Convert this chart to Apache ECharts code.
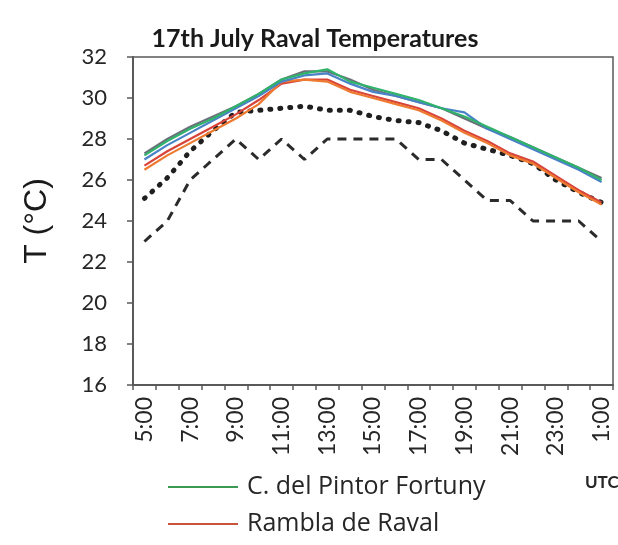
<!DOCTYPE html>
<html>
<head>
<meta charset="utf-8">
<script src="https://cdn.jsdelivr.net/npm/echarts@6/dist/echarts.min.js"></script>
<style>
  html, body { margin: 0; padding: 0; background: #fff; }
  #chart { width: 618px; height: 545px; }
</style>
</head>
<body>
<div id="chart"></div>
<script>
// Hourly readings, 5:00 UTC on 17 July through 1:00 UTC the next day
const hours = ['5:00','6:00','7:00','8:00','9:00','10:00','11:00','12:00','13:00','14:00','15:00',
               '16:00','17:00','18:00','19:00','20:00','21:00','22:00','23:00','0:00','1:00'];

const pintorFortuny = [27.2,27.9,28.5,29.0,29.6,30.2,30.9,31.2,31.4,30.8,30.5,30.2,29.9,29.5,29.1,28.6,28.1,27.6,27.1,26.6,26.0];
const stationBlue   = [27.0,27.7,28.3,28.9,29.5,30.1,30.8,31.1,31.2,30.7,30.3,30.1,29.8,29.5,29.3,28.5,28.0,27.5,27.0,26.5,25.9];
const stationGrey   = [27.3,28.0,28.6,29.1,29.6,30.2,30.9,31.3,31.3,30.9,30.4,30.1,29.8,29.5,29.0,28.5,28.1,27.6,27.1,26.6,26.1];
const ramblaRaval   = [26.5,27.2,27.8,28.4,29.0,29.7,30.8,30.9,30.8,30.3,30.0,29.7,29.4,28.9,28.3,27.8,27.2,26.8,26.1,25.4,24.8];
const stationRed    = [26.7,27.4,28.0,28.6,29.2,29.9,30.7,30.9,30.9,30.4,30.1,29.8,29.5,29.0,28.4,27.9,27.3,26.9,26.2,25.5,24.9];
const dottedSeries  = [25.1,26.1,27.4,28.4,29.3,29.4,29.5,29.6,29.4,29.4,29.1,28.9,28.8,28.4,27.8,27.5,27.2,26.8,26.0,25.4,24.9];
const dashedSeries  = [23,24,26,27,28,27,28,27,28,28,28,28,27,27,26,25,25,24,24,24,23];

const yTicks = [16,18,20,22,24,26,28,30,32];

const axisColor = '#595959';
const font = 'Lato, "Open Sans", sans-serif';

function solid(name, data, color, z) {
  return { name, type: 'line', data, symbol: 'none', z,
           lineStyle: { color, width: 2.2 }, itemStyle: { color } };
}

const chart = echarts.init(document.getElementById('chart'), null, { renderer: 'canvas' });
chart.setOption({
  animation: false,
  title: {
    text: '17th July Raval Temperatures',
    left: 310, textAlign: 'center', top: 21,
    textStyle: { fontFamily: font, fontWeight: 'bold', fontSize: 25, color: '#1a1a1a' }
  },
  grid: {
    left: 133, right: 5, top: 57, bottom: 160,
    show: true, borderColor: axisColor, borderWidth: 1.5, backgroundColor: '#fff'
  },
  legend: {
    data: [
      { name: 'C. del Pintor Fortuny', icon: 'rect', itemStyle: { color: '#3a9a52' } },
      { name: 'Rambla de Raval', icon: 'rect', itemStyle: { color: '#c8553a' } }
    ],
    orient: 'vertical', left: 168, top: 472, itemGap: 7, padding: 0,
    itemWidth: 70, itemHeight: 2,
    textStyle: { fontFamily: '"Open Sans", sans-serif', fontSize: 25, lineHeight: 30,
                 color: '#262626', padding: [0, 0, 0, 4] }
  },
  graphic: [{
    type: 'text', left: 585, top: 474,
    style: { text: 'UTC', fontFamily: font, fontWeight: 'bold', fontSize: 17, fill: '#262626' }
  }],
  xAxis: {
    type: 'category', data: hours, boundaryGap: true,
    axisLine: { lineStyle: { color: axisColor, width: 2 } },
    axisTick: { show: true, interval: 0, length: 5, lineStyle: { color: axisColor, width: 1.5 } },
    axisLabel: { interval: 1, rotate: 90, margin: 12, fontFamily: font, fontSize: 23, color: '#262626' },
    splitLine: { show: false }
  },
  yAxis: {
    type: 'value', min: yTicks[0], max: yTicks[yTicks.length - 1], interval: 2,
    name: 'T (°C)', nameLocation: 'middle', nameGap: 80, nameRotate: 90,
    nameTextStyle: { fontFamily: '"Liberation Sans", Arial, sans-serif', fontSize: 32, color: '#1a1a1a' },
    axisLine: { show: true, lineStyle: { color: axisColor, width: 2 } },
    axisTick: { show: true, length: 6, lineStyle: { color: axisColor, width: 1.5 } },
    axisLabel: { margin: 26, fontFamily: font, fontSize: 22, color: '#262626' },
    splitLine: { show: false }
  },
  series: [
    { name: 'dashed', type: 'line', data: dashedSeries, symbol: 'none', z: 2,
      lineStyle: { color: '#2b2b2b', width: 3, type: [9, 7] } },
    { name: 'dotted', type: 'line', data: dottedSeries, symbol: 'none', z: 3,
      lineStyle: { color: '#1f1f1f', width: 5, type: [1, 9], cap: 'round' } },
    solid('stationRed', stationRed, '#d9443a', 4),
    solid('Rambla de Raval', ramblaRaval, '#ee7a30', 5),
    solid('stationGrey', stationGrey, '#6b6f7a', 6),
    solid('stationBlue', stationBlue, '#4a82c8', 7),
    solid('C. del Pintor Fortuny', pintorFortuny, '#2fb36a', 8)
  ]
});
</script>
</body>
</html>
